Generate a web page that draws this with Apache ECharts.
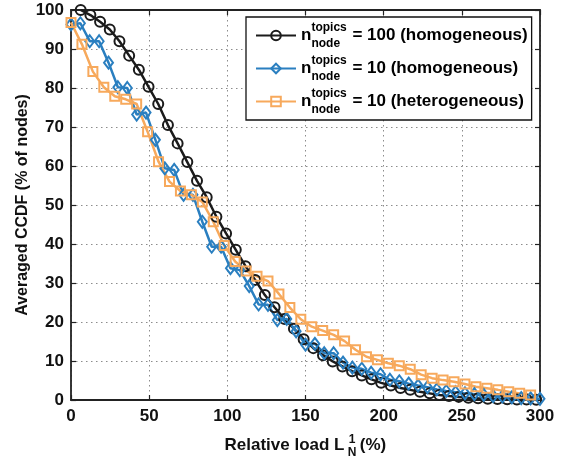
<!DOCTYPE html>
<html>
<head>
<meta charset="utf-8">
<script src="https://cdn.jsdelivr.net/npm/echarts@6/dist/echarts.min.js"></script>
<style>
  html, body { margin: 0; padding: 0; background: #fff; }
  #ccdf { width: 566px; height: 456px; }
</style>
</head>
<body>
<div id="ccdf"></div>
<script>
// load sample points (x, %)
var homo100X = [6.2, 12.4, 18.6, 24.8, 31, 37.2, 43.4, 49.6, 55.8, 62, 68.2, 74.4, 80.6, 86.8, 93, 99.2,
  105.4, 111.6, 117.8, 124, 130.2, 136.4, 142.6, 148.8, 155, 161.2, 167.4, 173.6, 179.8, 186, 192.2, 198.4,
  204.6, 210.8, 217, 223.2, 229.4, 235.6, 241.8, 248, 254.2, 260.4, 266.6, 272.8, 279, 285.2, 291.4, 297.6];
var homo100Y = [100, 98.7, 97, 95, 92, 88.3, 84.7, 80.3, 75.9, 70.5, 65.8, 61, 56.2, 52, 47, 42.7,
  38.5, 34.3, 30.8, 26.9, 23.8, 20.8, 18.3, 15.6, 13.3, 11.5, 9.9, 8.6, 7.4, 6.3, 5.3, 4.4,
  3.7, 3.1, 2.6, 2.1, 1.7, 1.3, 1.0, 0.8, 0.6, 0.45, 0.35, 0.25, 0.2, 0.15, 0.1, 0.05];

var homo10X = [0, 6, 12, 18, 24, 30, 36, 42, 48, 54, 60, 66, 72, 78, 84, 90, 96, 102, 108, 114, 120,
  126, 132, 138, 144, 150, 156, 162, 168, 174, 180, 186, 192, 198, 204, 210, 216, 222, 228, 234, 240,
  246, 252, 258, 264, 270, 276, 282, 288, 294, 300];
var homo10Y = [96.3, 96.6, 92, 92, 86.5, 80.2, 80, 73.2, 73.7, 66.7, 59.4, 59, 52.6, 52.6, 45.7, 39.3, 39.3,
  33.8, 33.3, 29.2, 24.5, 24.4, 20.5, 20.8, 17.6, 14.2, 14.4, 12, 12, 9.6, 8.3, 8, 7, 6.6, 5.2, 4.8, 4.2,
  3.7, 3.3, 2.7, 2.3, 2, 1.7, 1.5, 1.3, 1, 0.9, 0.7, 0.5, 0.4, 0.3];

var hetero10X = [0, 7, 14, 21, 28, 35, 42, 49, 56, 63, 70, 77, 84, 91, 98, 105, 112, 119, 126, 133, 140,
  147, 154, 161, 168, 175, 182, 189, 196, 203, 210, 217, 224, 231, 238, 245, 252, 259, 266, 273, 280, 287, 294];
var hetero10Y = [96.8, 91.2, 84.2, 80.2, 77.9, 77.1, 75.9, 68.8, 61.1, 56, 53.6, 52.6, 50.8, 45.7, 39.6,
  35.5, 33.1, 31.7, 30.5, 27.2, 23.7, 20.7, 18.8, 17.8, 16.7, 15.1, 12.9, 11.1, 10.3, 9.4, 8.8, 7.9, 6.5,
  5.6, 5.1, 4.7, 4.1, 3.4, 3, 2.6, 2.1, 1.7, 1.3];

var topicCounts = ["100", "10", "10"];
var nodeKinds = ["homogeneous", "homogeneous", "heterogeneous"];
var seriesNames = topicCounts.map(function (c, i) {
  return "n_node^topics = " + c + " (" + nodeKinds[i] + ")";
});

var xTicks = { min: 0, max: 300, step: 50 };
var yTicks = { min: 0, max: 100, step: 10 };

var FONT = "'Liberation Sans', Arial, sans-serif";

function pairs(xs, ys) {
  return xs.map(function (x, i) { return [x, ys[i]]; });
}

function lineSeries(name, data, color, symbol, size) {
  return {
    name: name,
    type: "line",
    data: data,
    symbol: symbol,
    symbolSize: size,
    showSymbol: true,
    lineStyle: { color: color, width: 2.5 },
    itemStyle: { color: "rgba(255,255,255,0)", borderColor: color, borderWidth: 2 },
    emphasis: { disabled: true },
  };
}

var chart = echarts.init(document.getElementById("ccdf"));

var tickStyle = { show: true, inside: true, length: 5, lineStyle: { color: "#222", width: 1.2 } };
var axisLineStyle = { show: true, onZero: false, lineStyle: { color: "#222", width: 1.8 } };
var gridDots = { show: true, lineStyle: { color: "#8c8c8c", width: 1, type: [1.5, 3.5] } };

var option = {
  animation: false,
  backgroundColor: "#fff",
  textStyle: { fontFamily: FONT },
  // plot box fixed to the figure's box, names may sit outside it
  grid: { left: 71, right: 26, top: 10, bottom: 56, outerBoundsMode: "none" },
  legend: {
    orient: "vertical",
    left: 246,
    top: 17,
    padding: [2, 4, 2, 9],
    itemGap: 0,
    itemWidth: 40,
    itemHeight: 12,
    backgroundColor: "#fff",
    borderColor: "#111",
    borderWidth: 1.3,
    data: seriesNames,
    formatter: function (name) {
      var i = seriesNames.indexOf(name);
      return "{sp| }{sup|topics}\n{n|n}{gap| }{t|= " + topicCounts[i] + " (" + nodeKinds[i] + ")}\n{sp| }{sub|node}";
    },
    textStyle: {
      color: "#000",
      fontFamily: FONT,
      fontWeight: "bold",
      rich: {
        sp: { width: 10.4, fontSize: 17, lineHeight: 6, verticalAlign: "middle" },
        sup: { fontSize: 12, fontWeight: "bold", lineHeight: 6, verticalAlign: "middle", fontFamily: FONT },
        n: { width: 10.4, fontSize: 17, fontWeight: "bold", lineHeight: 10, verticalAlign: "middle", fontFamily: FONT },
        gap: { width: 41, fontSize: 17, lineHeight: 10, verticalAlign: "middle" },
        t: { fontSize: 17, fontWeight: "bold", lineHeight: 10, verticalAlign: "middle", fontFamily: FONT },
        sub: { fontSize: 12, fontWeight: "bold", lineHeight: 6, verticalAlign: "middle", fontFamily: FONT },
      },
    },
  },
  xAxis: [
    {
      type: "value",
      min: xTicks.min,
      max: xTicks.max,
      interval: xTicks.step,
      name: "{sp| }{sup|1}{sp2| }\n{t|Relative load L}{g| }{t2|(%)}\n{sp| }{sub|N}{sp2| }",
      nameLocation: "middle",
      nameGap: 38,
      nameMoveOverlap: false,
      nameTextStyle: {
        color: "#111",
        rich: {
          sp: { width: 120, fontSize: 17, lineHeight: 4, verticalAlign: "middle" },
          sup: { width: 15, fontSize: 12, fontWeight: "bold", lineHeight: 4, verticalAlign: "middle", fontFamily: FONT },
          sp2: { width: 27, fontSize: 17, lineHeight: 4, verticalAlign: "middle" },
          t: { width: 120, fontSize: 17, fontWeight: "bold", lineHeight: 6, verticalAlign: "middle", fontFamily: FONT },
          g: { width: 15, fontSize: 17, lineHeight: 6, verticalAlign: "middle" },
          t2: { width: 27, fontSize: 17, fontWeight: "bold", lineHeight: 6, verticalAlign: "middle", fontFamily: FONT },
          sub: { width: 15, fontSize: 12, fontWeight: "bold", lineHeight: 10, verticalAlign: "middle", fontFamily: FONT },
        },
      },
      axisLine: axisLineStyle,
      axisTick: tickStyle,
      axisLabel: { color: "#111", fontSize: 17, fontWeight: "bold", margin: 8 },
      splitLine: gridDots,
    },
    {
      // top edge of the box, ticks only
      type: "value",
      position: "top",
      min: xTicks.min,
      max: xTicks.max,
      interval: xTicks.step,
      axisLine: axisLineStyle,
      axisTick: tickStyle,
      axisLabel: { show: false },
      splitLine: { show: false },
    },
  ],
  yAxis: [
    {
      type: "value",
      min: yTicks.min,
      max: yTicks.max,
      interval: yTicks.step,
      name: "Averaged CCDF (% of nodes)",
      nameLocation: "middle",
      nameGap: 40,
      nameMoveOverlap: false,
      nameTextStyle: { color: "#111", fontSize: 16, fontWeight: "bold" },
      axisLine: axisLineStyle,
      axisTick: tickStyle,
      axisLabel: { color: "#111", fontSize: 17, fontWeight: "bold", margin: 7 },
      splitLine: gridDots,
    },
    {
      type: "value",
      position: "right",
      min: yTicks.min,
      max: yTicks.max,
      interval: yTicks.step,
      axisLine: axisLineStyle,
      axisTick: tickStyle,
      axisLabel: { show: false },
      splitLine: { show: false },
    },
  ],
  series: [
    lineSeries(seriesNames[0], pairs(homo100X, homo100Y), "#1b1b1b", "circle", 10),
    lineSeries(seriesNames[1], pairs(homo10X, homo10Y), "#2a7fc0", "diamond", [9, 12]),
    lineSeries(seriesNames[2], pairs(hetero10X, hetero10Y), "#f7a95c", "rect", 9),
  ],
};

chart.setOption(option);
</script>
</body>
</html>
